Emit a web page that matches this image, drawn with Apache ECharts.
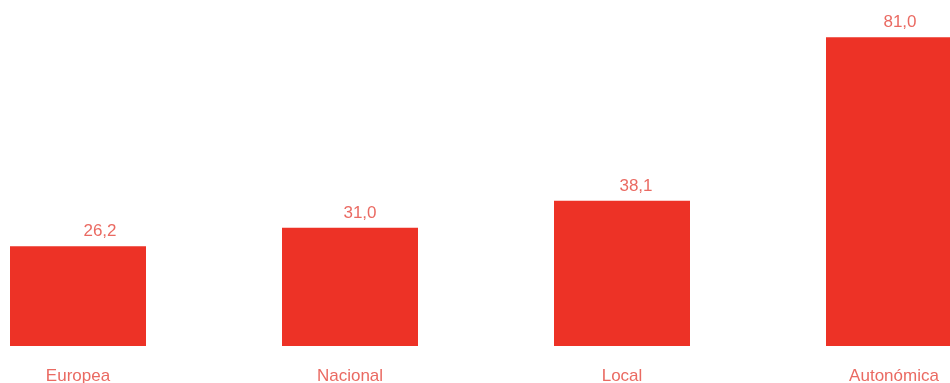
<!DOCTYPE html>
<html>
<head>
<meta charset="utf-8">
<script src="https://cdn.jsdelivr.net/npm/echarts@6/dist/echarts.min.js"></script>
<style>
  html, body { margin: 0; padding: 0; background: #fff; }
  #container { width: 950px; height: 383px; }
</style>
</head>
<body>
<div id="container"></div>
<script>
const categories = ['Europea', 'Nacional', 'Local', 'Autonómica'];
const values = [26.2, 31.0, 38.1, 81.0];

// value labels sit a little right of bar centre in the original
const labelNudge = [22, 10, 14, 6];

const barColor = '#ED3226';
const textColor = '#EA6A62';

function fmt(v) {
	return v.toFixed(1).replace('.', ',');
}

function drawChart() {
	var dom = document.getElementById('container');
	var chart = echarts.init(dom, null, { renderer: 'canvas' });

	let data = values.map((v, i) => ({
		value: v,
		label: { offset: [labelNudge[i], 0] }
	}));

	const option = {
		animation: false,
		grid: {
			left: -58,
			width: 1088,
			top: 3,
			bottom: 37,
			containLabel: false,
			outerBoundsMode: 'none'
		},
		xAxis: {
			type: 'category',
			data: categories,
			axisLine: { show: false },
			axisTick: { show: false },
			axisLabel: {
				color: textColor,
				fontFamily: 'Liberation Sans, Arial, sans-serif',
				fontSize: 17,
				margin: 22,
				interval: 0
			}
		},
		yAxis: {
			type: 'value',
			min: 0,
			max: 90,
			show: false,
			splitLine: { show: false }
		},
		series: [{
			type: 'bar',
			data,
			barWidth: 136,
			itemStyle: { color: barColor },
			label: {
				show: true,
				position: 'top',
				distance: 6,
				color: textColor,
				fontFamily: 'Liberation Sans, Arial, sans-serif',
				fontSize: 17,
				formatter: (p) => fmt(p.value)
			}
		}]
	};

	chart.setOption(option, true);
}

drawChart();
</script>
</body>
</html>
